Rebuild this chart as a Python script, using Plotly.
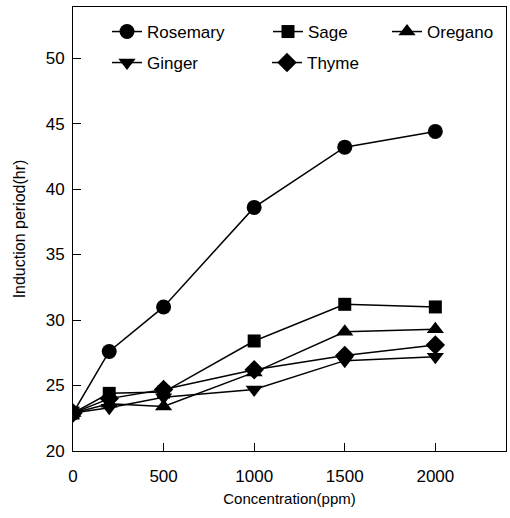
import plotly.graph_objects as go

concentration = [0, 200, 500, 1000, 1500, 2000]
rosemary = [22.9, 27.6, 31.0, 38.6, 43.2, 44.4]
sage = [22.9, 24.4, 24.5, 28.4, 31.2, 31.0]
oregano = [22.9, 23.6, 23.4, 26.0, 29.1, 29.3]
ginger = [22.9, 23.3, 24.1, 24.7, 26.9, 27.2]
thyme = [22.9, 24.0, 24.7, 26.2, 27.3, 28.1]

series_names = ["Rosemary", "Sage", "Oregano", "Ginger", "Thyme"]
series_values = [rosemary, sage, oregano, ginger, thyme]
symbols = ["circle", "square", "triangle-up", "triangle-down", "diamond"]
sizes = [15, 13, 15, 15, 15]

x_ticks = [0, 500, 1000, 1500, 2000]
y_ticks = [20, 25, 30, 35, 40, 45, 50]

W, H = 510, 518
ML, MR, MT, MB = 73, 4, 7, 67
PW, PH = W - ML - MR, H - MT - MB

# legend item left pixel, row-center pixel
legend_pos = [(107, 32), (268, 32), (387, 32), (107, 63), (267, 63)]

FONT = "Liberation Sans, Arial, sans-serif"

fig = go.Figure()
for i, (name, vals) in enumerate(zip(series_names, series_values)):
    lg = "legend" if i == 0 else f"legend{i+1}"
    fig.add_trace(go.Scatter(
        x=concentration, y=vals, name=name, mode="lines+markers",
        line=dict(color="black", width=1.5),
        marker=dict(symbol=symbols[i], size=sizes[i], color="black"),
        legend=lg,
    ))

layout_legends = {}
for i, (px, py) in enumerate(legend_pos):
    key = "legend" if i == 0 else f"legend{i+1}"
    layout_legends[key] = dict(
        x=(px - ML) / PW, y=(H - MB - py) / PH,
        xanchor="left", yanchor="middle",
        bgcolor="rgba(0,0,0,0)", borderwidth=0,
        font=dict(family=FONT, size=17, color="black"),
        tracegroupgap=0,
    )

fig.update_layout(
    width=W, height=H,
    margin=dict(l=ML, r=MR, t=MT, b=MB),
    plot_bgcolor="white", paper_bgcolor="white",
    font=dict(family=FONT, color="black"),
    showlegend=True,
    **layout_legends,
)

fig.update_xaxes(
    range=[0, 2390], tickvals=x_ticks, ticks="inside", ticklen=8,
    tickcolor="black", tickwidth=1,
    showline=True, linecolor="black", linewidth=1, mirror=True,
    showgrid=False, zeroline=False,
    tickfont=dict(family=FONT, size=17, color="black"),
    ticklabelstandoff=10,
    title=dict(text="Concentration(ppm)", font=dict(family=FONT, size=15, color="black"), standoff=8),
)
fig.update_yaxes(
    range=[20, 53.9], tickvals=y_ticks, ticks="inside", ticklen=8,
    tickcolor="black", tickwidth=1,
    showline=True, linecolor="black", linewidth=1, mirror=True,
    showgrid=False, zeroline=False,
    tickfont=dict(family=FONT, size=17, color="black"),
    ticklabelstandoff=4,
    title=dict(text="Induction period(hr)", font=dict(family=FONT, size=16, color="black"), standoff=16),
)

fig.write_html("out.html")
